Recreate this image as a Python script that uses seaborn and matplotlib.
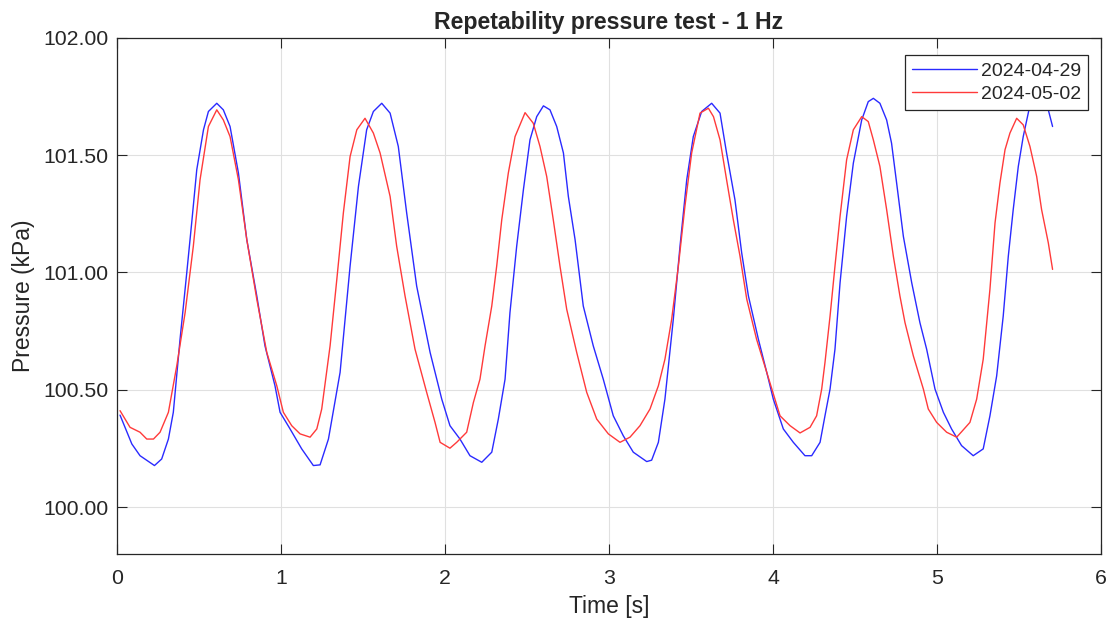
import matplotlib
matplotlib.use("Agg")
import matplotlib.pyplot as plt
from matplotlib.ticker import FormatStrFormatter
import pandas as pd
import seaborn as sns

# values
time_0429 = [0.018, 0.09, 0.14, 0.228, 0.272, 0.313, 0.343, 0.384, 0.425, 0.455, 0.486, 0.527, 0.557, 0.608, 0.648,
             0.689, 0.74, 0.791, 0.852, 0.902, 0.963, 0.994, 1.055, 1.126, 1.197, 1.238, 1.289, 1.36, 1.421, 1.472,
             1.522, 1.563, 1.614, 1.665, 1.715, 1.766, 1.827, 1.909, 1.98, 2.03, 2.091, 2.152, 2.224, 2.285, 2.325,
             2.366, 2.396, 2.437, 2.478, 2.518, 2.559, 2.6, 2.64, 2.681, 2.722, 2.752, 2.793, 2.843, 2.904, 2.965,
             3.026, 3.087, 3.148, 3.23, 3.26, 3.301, 3.341, 3.392, 3.433, 3.474, 3.514, 3.565, 3.626, 3.677, 3.717,
             3.768, 3.809, 3.85, 3.911, 3.962, 4.002, 4.063, 4.124, 4.195, 4.236, 4.287, 4.317, 4.348, 4.378, 4.409,
             4.449, 4.49, 4.541, 4.581, 4.612, 4.652, 4.693, 4.723, 4.754, 4.795, 4.846, 4.896, 4.937, 4.988, 5.039,
             5.089, 5.15, 5.221, 5.282, 5.323, 5.364, 5.404, 5.435, 5.465, 5.496, 5.526, 5.56, 5.6, 5.64, 5.68, 5.705]
pressure_0429 = [100.392, 100.269, 100.219, 100.177, 100.205, 100.29, 100.404, 100.715, 100.999, 101.211, 101.438,
                 101.608, 101.686, 101.721, 101.693, 101.622, 101.424, 101.14, 100.9, 100.687, 100.517, 100.404,
                 100.333, 100.248, 100.177, 100.18, 100.29, 100.574, 101.027, 101.367, 101.608, 101.686, 101.721,
                 101.679, 101.537, 101.254, 100.942, 100.659, 100.46, 100.347, 100.29, 100.219, 100.191, 100.234,
                 100.375, 100.545, 100.829, 101.112, 101.353, 101.565, 101.664, 101.71, 101.693, 101.622, 101.509,
                 101.324, 101.14, 100.857, 100.687, 100.545, 100.389, 100.304, 100.234, 100.194, 100.2, 100.276,
                 100.46, 100.8, 101.112, 101.395, 101.579, 101.686, 101.721, 101.679, 101.509, 101.31, 101.084,
                 100.9, 100.715, 100.574, 100.46, 100.333, 100.276, 100.219, 100.219, 100.276, 100.389, 100.503,
                 100.673, 100.956, 101.239, 101.466, 101.65, 101.728, 101.742, 101.721, 101.65, 101.551, 101.381,
                 101.154, 100.956, 100.786, 100.673, 100.503, 100.404, 100.333, 100.262, 100.219, 100.248, 100.389,
                 100.559, 100.814, 101.069, 101.268, 101.452, 101.579, 101.69, 101.73, 101.73, 101.69, 101.622]

time_0502 = [0.018, 0.079, 0.14, 0.181, 0.222, 0.262, 0.313, 0.364, 0.415, 0.465, 0.506, 0.557, 0.608, 0.648, 0.689,
             0.74, 0.791, 0.852, 0.913, 0.974, 1.014, 1.065, 1.116, 1.177, 1.218, 1.248, 1.299, 1.34, 1.38, 1.421,
             1.462, 1.512, 1.563, 1.604, 1.665, 1.705, 1.756, 1.817, 1.888, 1.939, 1.97, 2.03, 2.071, 2.132, 2.173,
             2.213, 2.244, 2.285, 2.315, 2.346, 2.386, 2.427, 2.488, 2.538, 2.579, 2.62, 2.66, 2.701, 2.742, 2.803,
             2.864, 2.925, 2.996, 3.067, 3.128, 3.189, 3.25, 3.301, 3.341, 3.382, 3.423, 3.463, 3.504, 3.555, 3.606,
             3.637, 3.677, 3.717, 3.758, 3.799, 3.84, 3.9, 3.962, 4.043, 4.104, 4.165, 4.226, 4.266, 4.297, 4.317,
             4.348, 4.378, 4.409, 4.449, 4.49, 4.541, 4.581, 4.612, 4.652, 4.693, 4.734, 4.774, 4.805, 4.856, 4.917,
             4.947, 4.998, 5.059, 5.12, 5.15, 5.201, 5.242, 5.282, 5.323, 5.354, 5.384, 5.415, 5.445, 5.486, 5.526,
             5.567, 5.608, 5.638, 5.679, 5.705]
pressure_0502 = [100.411, 100.34, 100.319, 100.29, 100.29, 100.319, 100.404, 100.602, 100.829, 101.112, 101.395,
                 101.622, 101.693, 101.65, 101.579, 101.395, 101.14, 100.886, 100.659, 100.517, 100.404, 100.347,
                 100.312, 100.298, 100.333, 100.418, 100.687, 100.97, 101.254, 101.494, 101.608, 101.657, 101.594,
                 101.509, 101.324, 101.112, 100.9, 100.673, 100.489, 100.361, 100.276, 100.251, 100.276, 100.319,
                 100.446, 100.545, 100.687, 100.857, 101.027, 101.225, 101.424, 101.579, 101.681, 101.636, 101.537,
                 101.409, 101.225, 101.027, 100.843, 100.659, 100.489, 100.375, 100.312, 100.276, 100.298, 100.347,
                 100.418, 100.517, 100.63, 100.8, 101.027, 101.282, 101.509, 101.679, 101.7, 101.664, 101.565,
                 101.395, 101.225, 101.069, 100.886, 100.715, 100.574, 100.389, 100.347, 100.316, 100.34, 100.389,
                 100.503, 100.616, 100.814, 101.027, 101.239, 101.48, 101.608, 101.664, 101.643, 101.565, 101.452,
                 101.268, 101.069, 100.9, 100.786, 100.644, 100.503, 100.418, 100.361, 100.319, 100.298, 100.321,
                 100.361, 100.46, 100.63, 100.928, 101.211, 101.381, 101.523, 101.594, 101.657, 101.629, 101.537,
                 101.409, 101.268, 101.126, 101.013]

series_labels = ["2024-04-29", "2024-05-02"]

df = pd.concat([
    pd.DataFrame({"time": time_0429, "pressure": pressure_0429, "date": series_labels[0]}),
    pd.DataFrame({"time": time_0502, "pressure": pressure_0502, "date": series_labels[1]}),
])

sns.set_theme(style="ticks")
plt.rcParams["font.family"] = ["Liberation Sans", "DejaVu Sans"]

fig = plt.figure(figsize=(11.15, 6.28), dpi=100)
ax = fig.add_axes([0.105, 0.1178, 0.8824, 0.822])

sns.lineplot(
    data=df,
    x="time",
    y="pressure",
    hue="date",
    palette={series_labels[0]: "#2a2aff", series_labels[1]: "#ff3a3a"},
    linewidth=1.0,
    sort=False,
    estimator=None,
    ax=ax,
)

ax.set_xlim(0, 6)
ax.set_ylim(99.8, 102.0)
ax.set_xticks([0, 1, 2, 3, 4, 5, 6])
ax.set_yticks([100.0, 100.5, 101.0, 101.5, 102.0])
ax.yaxis.set_major_formatter(FormatStrFormatter("%.2f"))
ax.grid(True, color="#e0e0e0", linewidth=0.8)
ax.set_axisbelow(True)

for spine in ax.spines.values():
    spine.set_visible(True)
    spine.set_color("#262626")
    spine.set_linewidth(0.9)
ax.tick_params(direction="in", length=7, width=0.8, colors="#262626",
               labelsize=15.3, top=True, right=True)
ax.tick_params(axis="x", pad=11)
ax.tick_params(axis="y", pad=6)

ax.set_title("Repetability pressure test - 1 Hz", fontsize=16.7, fontweight="bold", pad=6)
ax.set_xlabel("Time [s]", fontsize=16.5, color="#262626", labelpad=5)
ax.set_ylabel("Pressure (kPa)", fontsize=16.5, color="#262626", labelpad=6)

leg = ax.legend(loc="upper right", bbox_to_anchor=(0.9868, 0.9665), borderaxespad=0,
                fontsize=14, frameon=True, fancybox=False,
                edgecolor="#262626", framealpha=1, handlelength=3.35,
                borderpad=0.35, labelspacing=0.3, handletextpad=0.2)
leg.get_frame().set_linewidth(0.9)

fig.savefig("out.png", dpi=100)
